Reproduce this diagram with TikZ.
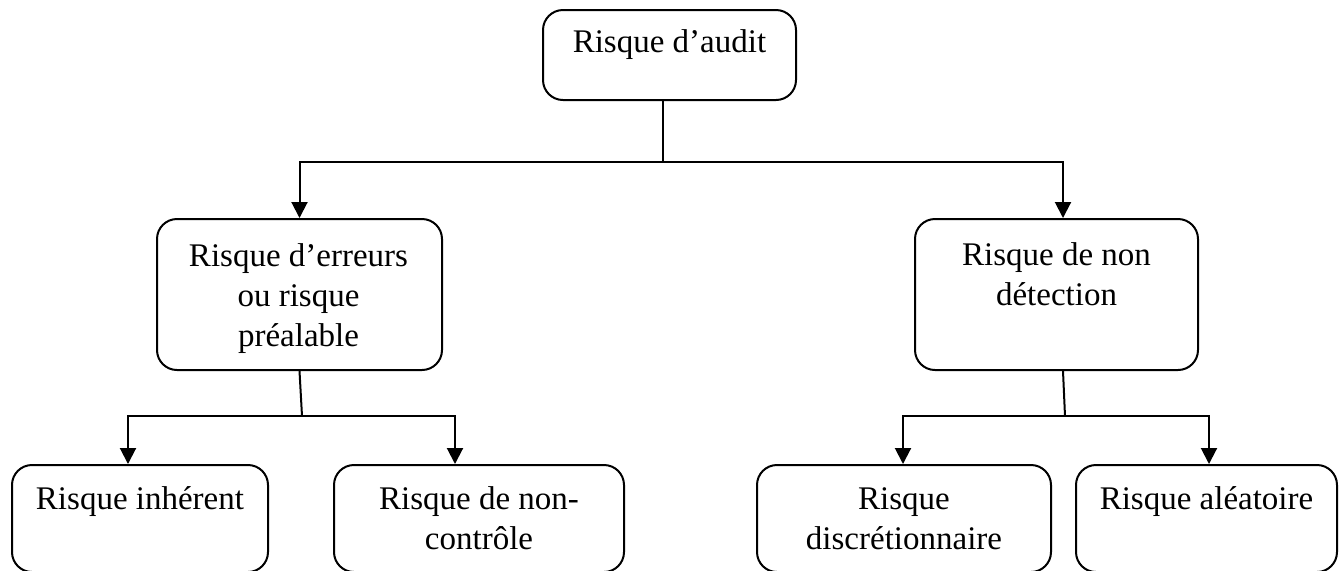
\documentclass[tikz,border=0pt]{standalone}
\usepackage{fontspec}
\setmainfont{Liberation Serif}
\usetikzlibrary{arrows.meta,calc}
\tikzset{
  box/.style={draw=black, line width=1pt, rounded corners=10pt, inner sep=0pt, minimum height=#1},
  box/.default=75.5pt,
  lbl/.style={anchor=base, align=center, inner sep=0pt, font=\fontsize{16.5}{20}\selectfont},
  con/.style={draw=black, line width=1pt},
  arr/.style={con, -{Triangle[length=8pt,width=8pt]}},
}
\begin{document}
\begin{tikzpicture}[x=0.5pt,y=-0.5pt]
\useasboundingbox (0,0) rectangle (1344,570);
\clip (0,0) rectangle (1344,570);
% boxes
\node[box=45pt, minimum width=126.5pt] (top) at (669.5,55) {};
\node[box, minimum width=142.5pt] (ml) at (299.5,294.5) {};
\node[box, minimum width=141.5pt] (mr) at (1056.5,294.5) {};
\node[box=53.5pt, minimum width=128pt] (b1) at (140,518.5) {};
\node[box=53.5pt, minimum width=145pt] (b2) at (479,518.5) {};
\node[box=53.5pt, minimum width=147pt] (b3) at (904,518.5) {};
\node[box=53.5pt, minimum width=130.5pt] (b4) at (1206.5,518.5) {};
% labels (base anchor = baseline of the last line)
\node[lbl] (ttop) at ($(top.north)+(0,43)$) {Risque d’audit};
\node[lbl] (tml) at ($(ml.north)+(-1,128)$) {Risque d’erreurs\\ou risque\\préalable};
\node[lbl] (tmr) at ($(mr.north)+(0,87)$) {Risque de non\\détection};
\node[lbl] (tb1) at ($(b1.north)+(0,45)$) {Risque inhérent};
\node[lbl] (tb2) at ($(b2.north)+(0,85)$) {Risque de non-\\contrôle};
\node[lbl] (tb3) at ($(b3.north)+(0,85)$) {Risque\\discrétionnaire};
\node[lbl] (tb4) at ($(b4.north)+(0,45)$) {Risque aléatoire};
% junctions
\coordinate (j1) at (663,162);
\coordinate (a1) at (299.5,162);
\coordinate (a2) at (1063,162);
\coordinate (j2) at (302,416);
\coordinate (c1) at (128,416);
\coordinate (c2) at (455,416);
\coordinate (j3) at (1065,416);
\coordinate (c3) at (903,416);
\coordinate (c4) at (1209,416);
% connectors
\draw[con] (j1 |- top.south) -- (j1);
\draw[arr] (j1) -- (a1) -- (a1 |- ml.north);
\draw[arr] (j1) -- (a2) -- (a2 |- mr.north);
\draw[con] (ml.south) -- (j2);
\draw[arr] (j2) -- (c1) -- (c1 |- b1.north);
\draw[arr] (j2) -- (c2) -- (c2 |- b2.north);
\draw[con] ($(mr.south)+(6.5,0)$) -- (j3);
\draw[arr] (j3) -- (c3) -- (c3 |- b3.north);
\draw[arr] (j3) -- (c4) -- (c4 |- b4.north);
\end{tikzpicture}
\end{document}
